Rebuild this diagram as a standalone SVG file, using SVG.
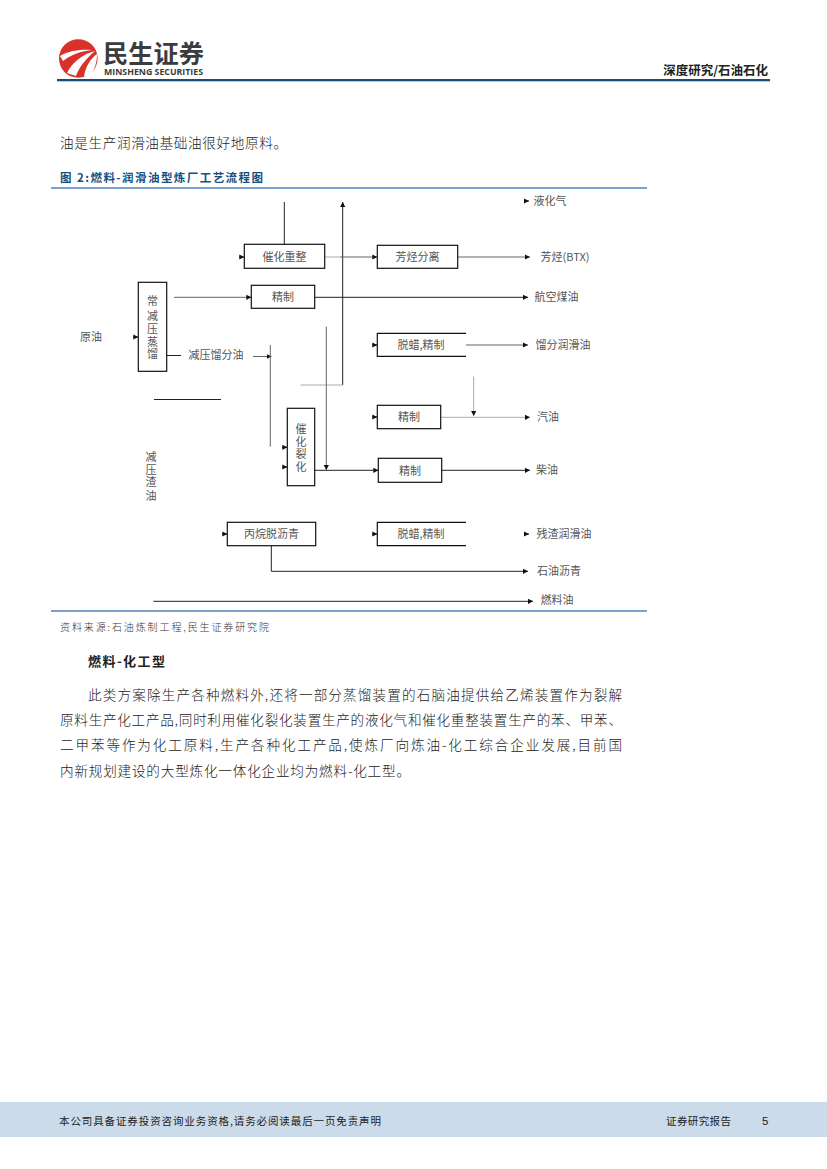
<svg xmlns="http://www.w3.org/2000/svg" width="827" height="1169" viewBox="0 0 827 1169">
<style>
text{font-family:"Noto Sans CJK SC","Liberation Sans",sans-serif}
.body{font-size:13.6px;fill:#222;font-weight:300}
.lab{font-size:11px;fill:#555;text-anchor:middle}
.box{fill:#fff;stroke:#111;stroke-width:1.2}
.k{fill:none;stroke:#222;stroke-width:1}
.m{fill:none;stroke:#666;stroke-width:1}
.g{fill:none;stroke:#aaa;stroke-width:1}
.a{marker-end:url(#ah)}
.rule{stroke:#4f81bd;stroke-width:1.4}
</style>
<defs>
<marker id="ah" markerUnits="userSpaceOnUse" markerWidth="6" markerHeight="6" refX="5" refY="3" orient="auto"><path d="M0 .4L5 3L0 5.6Z" fill="#111"/></marker>
</defs>
<rect width="827" height="1169" fill="#fff"/>

<g id="header">
<circle cx="78.3" cy="58.5" r="19.3" fill="#d9322c"/>
<path d="M60 56C68 51 80 49 92 50C82 51 72 54 63 61ZM67 73C72 63 82 54 95 51C88 57 80 65 76 76ZM84 77C85 68 90 59 97 54C97 62 95 70 90 75Z" fill="#fff"/>
<text x="103" y="63" font-size="25" font-weight="700" fill="#3c3c3c" textLength="101" lengthAdjust="spacingAndGlyphs">民生证券</text>
<text x="104" y="75" font-size="9" font-weight="700" fill="#3c3c3c" style="font-family:'Open Sans','Liberation Sans',sans-serif" textLength="99" lengthAdjust="spacingAndGlyphs">MINSHENG SECURITIES</text>
<text x="768" y="75" font-size="12.5" font-weight="700" fill="#222" text-anchor="end">深度研究/石油石化</text>
<rect x="57" y="79" width="713" height="2" fill="#14507f"/>
<rect x="57" y="81" width="713" height="1" fill="#a9cbe6"/>
</g>

<text class="body" x="60" y="148" textLength="227">油是生产润滑油基础油很好地原料。</text>
<text x="60" y="182" font-size="11.5" font-weight="700" fill="#14507f" textLength="203">图 2:燃料-润滑油型炼厂工艺流程图</text>
<line class="rule" x1="51" y1="188" x2="647" y2="188"/>

<g id="connectors">
<path class="k" d="M284.3 202V244.3"/>
<path class="k a" d="M342.7 385V202"/>
<path class="g" d="M300.7 385H342.7"/>
<path class="g" d="M324.7 257H340"/><path class="m a" d="M340 257H377.3"/>
<path class="m a" d="M457.7 257H530"/>
<path class="m a" d="M174 297.3H251.3"/>
<path class="k a" d="M314.7 297.3H528"/>
<path class="m a" d="M466 345H528"/>
<path class="k" d="M167 355.5H181"/>
<path class="m a" d="M253 356.5H271.5"/>
<path class="m" d="M270.3 345V446.7"/>
<path class="m a" d="M326.3 326.7V470"/>
<path class="k" d="M154 399.5H221"/>
<path class="g a" d="M473.7 376.7V416"/>
<path class="g a" d="M440.7 417.3H530"/>
<path class="k a" d="M314.7 470.3H378.3"/>
<path class="k a" d="M441.7 470.3H530"/>
<path class="k a" d="M271.3 545.7V571.3H528"/>
<path class="k a" d="M153.3 601.3H533"/>
<path class="k a" d="M133 337H138.3"/>
<path class="k a" d="M239 257H244.3"/>
<path class="k a" d="M372 345H377.3"/>
<path class="k a" d="M372 417H377.3"/>
<path class="k a" d="M282 447.3H287.3"/>
<path class="k a" d="M282 467H287.3"/>
<path class="k a" d="M222 534H227.3"/>
<path class="k a" d="M372 534H377.3"/>
<path class="k a" d="M524 201H529"/>
<path class="k a" d="M524 534H529"/>
</g>

<g id="n1"><text class="lab" x="91" y="341">原油</text></g>
<g id="n2"><rect class="box" x="138.3" y="282.3" width="28.4" height="89"/>
<text class="lab" x="152.5" y="305">常</text><text class="lab" x="152.5" y="320">减</text><text class="lab" x="152.5" y="333">压</text><text class="lab" x="152.5" y="346">蒸</text><text class="lab" x="152.5" y="358">馏</text></g>
<g id="n3"><text class="lab" x="216" y="359">减压馏分油</text></g>
<g id="n4"><text class="lab" x="151" y="461">减</text><text class="lab" x="151" y="474">压</text><text class="lab" x="151" y="486">渣</text><text class="lab" x="151" y="500">油</text></g>
<g id="n5"><rect class="box" x="244.3" y="244.3" width="80.4" height="24"/><text class="lab" x="284.5" y="261">催化重整</text></g>
<g id="n6"><rect class="box" x="251.3" y="285.3" width="63.4" height="23"/><text class="lab" x="283" y="301">精制</text></g>
<g id="n7"><rect class="box" x="287.3" y="408.3" width="27.4" height="77.4"/>
<text class="lab" x="301" y="433">催</text><text class="lab" x="301" y="446">化</text><text class="lab" x="301" y="458">裂</text><text class="lab" x="301" y="471">化</text></g>
<g id="n8"><rect class="box" x="227.3" y="522.3" width="88.4" height="23.4"/><text class="lab" x="271.5" y="538">丙烷脱沥青</text></g>
<g id="n9"><rect class="box" x="377.3" y="245.3" width="80.4" height="23"/><text class="lab" x="417.5" y="261">芳烃分离</text></g>
<g id="n10"><path class="box" d="M466 333.3H377.3V356.3H466"/><text class="lab" x="421" y="349">脱蜡,精制</text></g>
<g id="n11"><rect class="box" x="377.3" y="405.3" width="63.4" height="23.4"/><text class="lab" x="409" y="421">精制</text></g>
<g id="n12"><rect class="box" x="378.3" y="458.3" width="63.4" height="24"/><text class="lab" x="410" y="474.500">精制</text></g>
<g id="n13"><path class="box" d="M466 522.3H377.3V545.7H466"/><text class="lab" x="421" y="538">脱蜡,精制</text></g>
<g id="n14"><text class="lab" x="550" y="205">液化气</text></g>
<g id="n15"><text class="lab" x="565" y="261">芳烃(BTX)</text></g>
<g id="n16"><text class="lab" x="556.500" y="301">航空煤油</text></g>
<g id="n17"><text class="lab" x="563" y="349">馏分润滑油</text></g>
<g id="n18"><text class="lab" x="548" y="421">汽油</text></g>
<g id="n19"><text class="lab" x="547" y="474">柴油</text></g>
<g id="n20"><text class="lab" x="564" y="538">残渣润滑油</text></g>
<g id="n21"><text class="lab" x="559" y="575">石油沥青</text></g>
<g id="n22"><text class="lab" x="557" y="604">燃料油</text></g>

<line class="rule" x1="51" y1="611" x2="647" y2="611"/>
<text x="60" y="631" font-size="10" fill="#333" font-weight="300" textLength="209">资料来源:石油炼制工程,民生证券研究院</text>
<text x="88" y="666" font-size="13" font-weight="700" fill="#222" textLength="77">燃料-化工型</text>
<text class="body" x="88" y="700" textLength="534">此类方案除生产各种燃料外,还将一部分蒸馏装置的石脑油提供给乙烯装置作为裂解</text>
<text class="body" x="60" y="725" textLength="562">原料生产化工产品,同时利用催化裂化装置生产的液化气和催化重整装置生产的苯、甲苯、</text>
<text class="body" x="60" y="750" textLength="562">二甲苯等作为化工原料,生产各种化工产品,使炼厂向炼油-化工综合企业发展,目前国</text>
<text class="body" x="60" y="776" textLength="350">内新规划建设的大型炼化一体化企业均为燃料-化工型。</text>

<g id="footer">
<rect x="0" y="1102" width="827" height="35" fill="#ccdbe9"/>
<text x="59" y="1125" font-size="10.5" fill="#222" textLength="322">本公司具备证券投资咨询业务资格,请务必阅读最后一页免责声明</text>
<text x="666" y="1125" font-size="10.5" fill="#222" textLength="65">证券研究报告</text>
<text x="762" y="1125" font-size="11.500" fill="#222" style="font-family:'Liberation Sans',sans-serif">5</text>
</g>
</svg>
